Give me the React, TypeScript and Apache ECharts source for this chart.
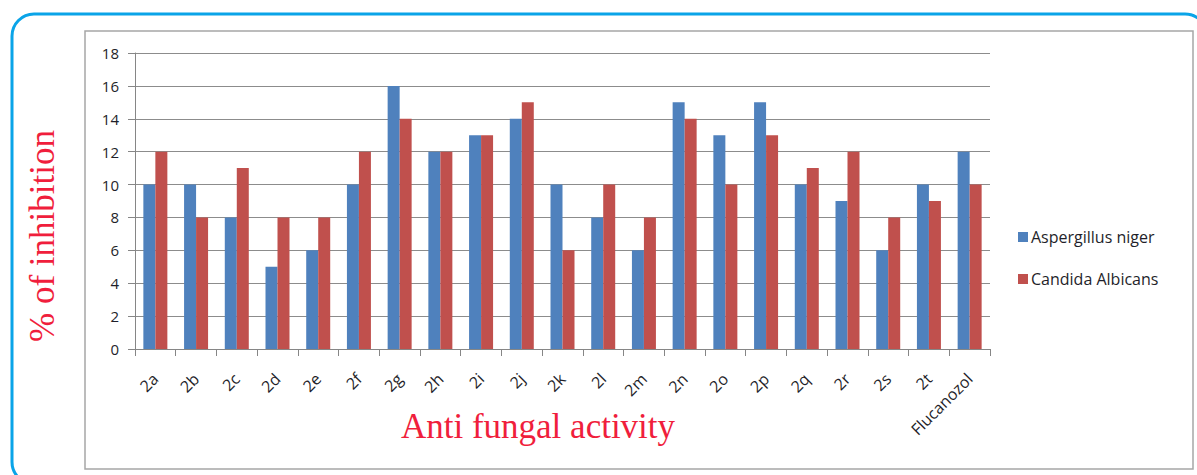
import React, { useEffect, useRef } from "react";
import * as echarts from "echarts";

const categories = ["2a", "2b", "2c", "2d", "2e", "2f", "2g", "2h", "2i", "2j", "2k", "2l", "2m", "2n", "2o", "2p", "2q", "2r", "2s", "2t", "Flucanozol"];
const aspergillus = [10, 10, 8, 5, 6, 10, 16, 12, 13, 14, 10, 8, 6, 15, 13, 15, 10, 9, 6, 10, 12];
const candida = [12, 8, 11, 8, 8, 12, 14, 12, 13, 15, 6, 10, 8, 14, 10, 13, 11, 12, 8, 9, 10];
const seriesNames = ["Aspergillus niger", "Candida Albicans"];
const yTitle = "% of inhibition";
const xTitle = "Anti fungal activity";

export default function App() {
  const ref = useRef<HTMLDivElement>(null);
  useEffect(() => {
    if (!ref.current) return;
    const chart = echarts.init(ref.current, null, { renderer: "svg" });
    const labelFont = { fontFamily: "Open Sans", fontSize: 16, color: "#1f1f2a" };
    chart.setOption({
      animation: false,
      backgroundColor: "#ffffff",
      grid: { left: 135, right: 207, top: 53, bottom: 126, containLabel: false },
      legend: {
        orient: "vertical",
        left: 1013,
        top: 224,
        itemWidth: 10,
        itemHeight: 10,
        itemGap: 26,
        icon: "rect",
        textStyle: { fontFamily: "Open Sans", fontSize: 16, color: "#1f1f2a", padding: [0, 0, 0, -2] },
        data: seriesNames,
      },
      xAxis: {
        type: "category",
        data: categories,
        axisLine: { lineStyle: { color: "#868686", width: 1 } },
        axisTick: { show: true, interval: 0, length: 7, lineStyle: { color: "#868686" } },
        axisLabel: { ...labelFont, interval: 0, rotate: 45, margin: 27 },
      },
      yAxis: {
        type: "value",
        min: 0,
        max: 18,
        interval: 2,
        axisLine: { show: true, lineStyle: { color: "#868686", width: 1 } },
        axisTick: { show: true, length: 7, lineStyle: { color: "#868686" } },
        axisLabel: { ...labelFont, fontSize: 15, margin: 16 },
        splitLine: { lineStyle: { color: "#8c8c8c", width: 1 } },
      },
      series: [
        { name: seriesNames[0], type: "bar", data: aspergillus, barWidth: 12, barGap: "0%", itemStyle: { color: "#4F81BD" } },
        { name: seriesNames[1], type: "bar", data: candida, barWidth: 12, barGap: "0%", itemStyle: { color: "#C0504D" } },
      ],
      graphic: [
        {
          type: "rect",
          shape: { x: 12, y: 14, width: 1195, height: 470, r: 22 },
          style: { fill: "none", stroke: "#0aa4e8", lineWidth: 3 },
          silent: true,
        },
        {
          type: "rect",
          shape: { x: 85, y: 31, width: 1108, height: 438 },
          style: { fill: "none", stroke: "#a6a6a6", lineWidth: 1.5 },
          silent: true,
        },
        {
          type: "text",
          x: 42,
          y: 236,
          rotation: Math.PI / 2,
          style: {
            text: yTitle,
            fontFamily: "Liberation Serif",
            fontSize: 35,
            fill: "#f01e3c",
            align: "center",
            verticalAlign: "middle",
          },
        },
        {
          type: "text",
          x: 538,
          y: 426,
          style: {
            text: xTitle,
            fontFamily: "Liberation Serif",
            fontSize: 35,
            fill: "#f01e3c",
            align: "center",
            verticalAlign: "middle",
          },
        },
      ],
    });
    return () => chart.dispose();
  }, []);
  return <div ref={ref} style={{ position: "fixed", left: 0, top: 0, width: 1197, height: 475 }} />;
}
